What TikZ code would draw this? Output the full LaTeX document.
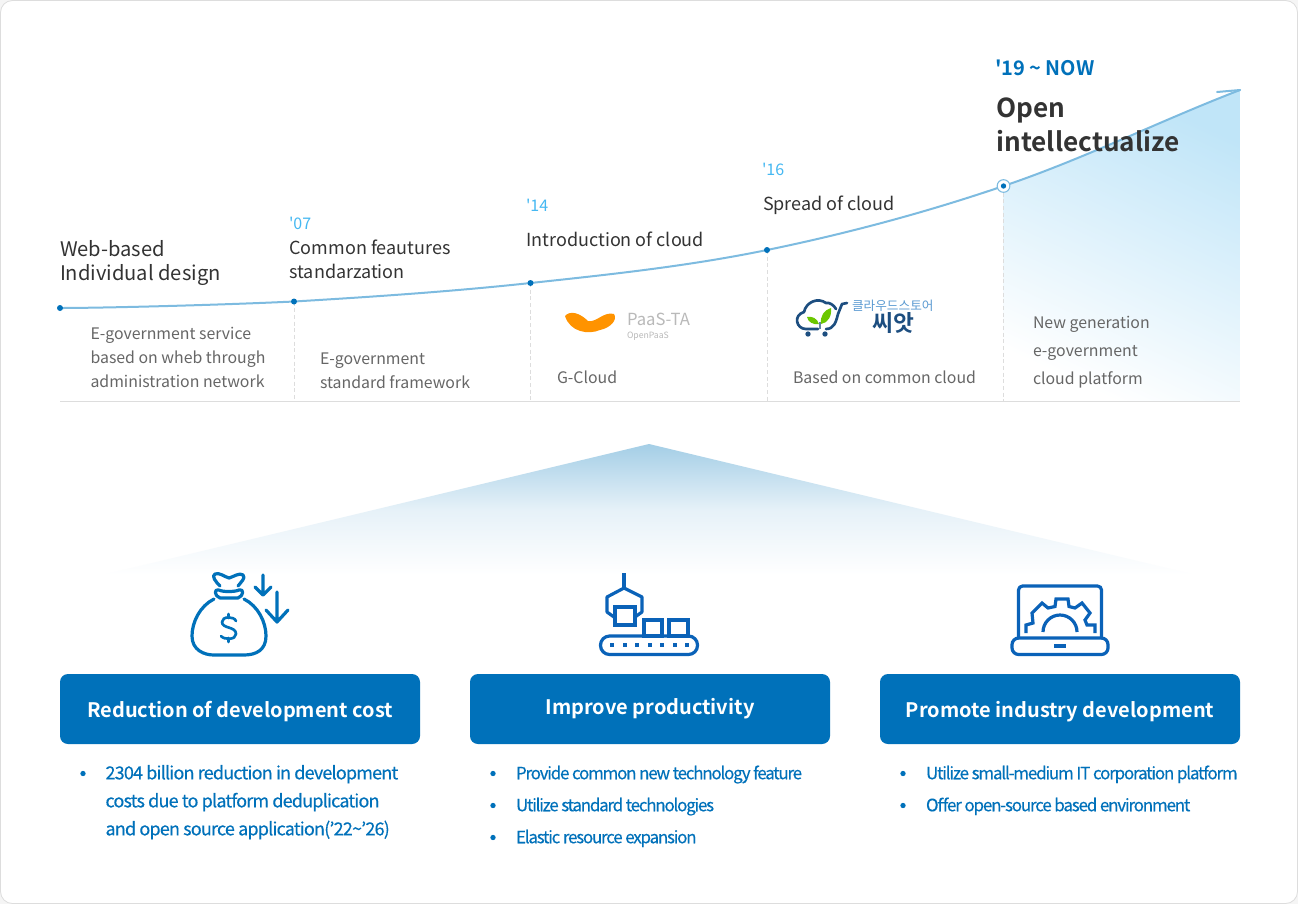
\documentclass[tikz,border=0pt]{standalone}
\usepackage{fontspec}
\setmainfont{Noto Sans CJK KR}[BoldFont={Noto Sans CJK KR Bold}]
\usetikzlibrary{calc}
\definecolor{blueA}{HTML}{0071BA}
\definecolor{lineB}{HTML}{7DBBE0}
\definecolor{yearC}{HTML}{45B8F2}
\definecolor{grayT}{HTML}{666666}
\definecolor{darkT}{HTML}{333333}
\definecolor{iconB}{HTML}{0A62B8}
\definecolor{sep}{HTML}{DDDDDD}
\definecolor{navyL}{HTML}{1D4E80}
\definecolor{krB}{HTML}{5C9BD2}
\tikzset{
  every node/.style={inner sep=0pt,outer sep=0pt},
  dotnode/.style={circle,fill=blueA,minimum size=4.5pt},
  yeartxt/.style={anchor=west,text=yearC,font=\fontsize{12}{14}\selectfont},
  headtxt/.style={anchor=north west,align=left,text=darkT,font=\fontsize{13.5}{18}\selectfont},
  bodytxt/.style={anchor=north west,align=left,text=grayT,font=\fontsize{11.9}{18}\selectfont},
  btn/.style={rounded corners=6pt,fill=blueA,minimum width=270pt,minimum height=52.5pt,text=white,text height=11pt,text depth=3pt,font=\fontsize{15}{18}\bfseries\selectfont},
  bullettxt/.style={anchor=north west,align=left,text=blueA},
  bdot/.style={circle,fill=blueA,minimum size=4pt},
  sepline/.style={sep,line width=0.6pt,densely dashed},
  icon/.style={iconB,line width=2.4pt,line cap=round,line join=round},
}
\begin{document}
\begin{tikzpicture}[x=0.75pt,y=-0.75pt]
\useasboundingbox (0,0) rectangle (1298,904);
\fill[gray!8] (0,0) rectangle (1298,904);
\draw[fill=white,draw=sep,line width=0.6pt,rounded corners=9pt] (0.5,0.5) rectangle (1297.5,903.5);

\coordinate (p0) at (60,308);
\coordinate (p1) at (294,301.5);
\coordinate (p2) at (530.5,283);
\coordinate (p3) at (767,250);
\coordinate (p4) at (1003.5,186);
\coordinate (p5) at (1240,90);
% area under curve
\begin{scope}
\clip (p4) .. controls (1082.8,159.3) and (1162,120) .. (p5) -- (1240,401) -- (1003.5,401) -- cycle;
\shade[bottom color=white,top color={rgb,255:red,192;green,229;blue,248},shading angle=-25] (1003.5,90) rectangle (1240,401);
\end{scope}
% triangle
\shade[top color={rgb,255:red,164;green,206;blue,230},bottom color=white,middle color={rgb,255:red,230;green,241;blue,248}]
  (649,444) -- (1196,575) -- (102,575) -- cycle;

% baseline and separators
\coordinate (bl) at (60,401.5);
\coordinate (br) at (1240,401.5);
\draw[sep,line width=0.75pt] (bl) -- (br);
\foreach \n/\x in {p1/294,p2/530.5,p3/767,p4/1003.5}{
  \draw[sepline] (\n) -- (\x,401);
}
% curve
\draw[lineB,line width=1.5pt,line cap=round]
  (p0) .. controls (100,308) and (215.5,305.2) .. (p1)
       .. controls (372.5,296.8) and (452.2,291.5) .. (p2)
       .. controls (609.8,274.5) and (688.2,266.2) .. (p3)
       .. controls (845.8,233.8) and (925.2,212.7) .. (p4)
       .. controls (1082.8,159.3) and (1162,120) .. (p5);
\draw[lineB,line width=1.5pt,line cap=round] (p5) -- (1217,92);
% markers
\node[dotnode] (d0) at (p0) {};
\node[dotnode] (d1) at (p1) {};
\node[dotnode] (d2) at (p2) {};
\node[dotnode] (d3) at (p3) {};
\node[circle,fill=white,draw=lineB,line width=0.8pt,minimum size=9.5pt] (d4) at (p4) {};
\node[dotnode,minimum size=4pt] (d4b) at (p4) {};

% texts
\node[headtxt,font=\fontsize{15.1}{18}\selectfont] (h0) at (60,240) {Web-based\\Individual design};
\node[yeartxt] (y1) at (289,223) {\textquotesingle07};
\node[headtxt] (h1) at (289.5,239.5) {Common feautures\\standarzation};
\node[yeartxt] (y2) at (526,205) {\textquotesingle14};
\node[headtxt] (h2) at (526.5,232) {Introduction of cloud};
\node[yeartxt] (y3) at (762,169) {\textquotesingle16};
\node[headtxt] (h3) at (763,196) {Spread of cloud};
\node[anchor=west,text=blueA,font=\fontsize{15}{18}\bfseries\selectfont] (y4) at (995,68) {\textquotesingle19 \textasciitilde{} NOW};
\node[anchor=north west,align=left,text=darkT,font=\fontsize{19.6}{25.5}\bfseries\selectfont] (h4) at (996.5,98) {Open\\intellectualize};

\node[bodytxt] (b0) at (90.5,327) {E-government service\\based on wheb through\\administration network};
\node[bodytxt] (b1) at (320,353) {E-government\\standard framework};
\node[bodytxt] (b2) at (557,371) {G-Cloud};
\node[bodytxt] (b3) at (793,371) {Based on common cloud};
\node[bodytxt,font=\fontsize{11.9}{21}\selectfont] (b4) at (1033,316) {New generation\\e-government\\cloud platform};

% PaaS-TA logo
\fill[orange!85!yellow] (565,316) .. controls (570,310) and (580,313) .. (588,321)
  .. controls (596,323) and (604,311) .. (614,314) .. controls (618,320) and (610,328) .. (600,330)
  .. controls (588,335) and (570,332) .. (565,316) -- cycle;
\node[anchor=west,text=gray!55,font=\fontsize{12.5}{14}\selectfont] (pt) at (627,319) {PaaS-TA};
\node[anchor=west,text=gray!55,font=\fontsize{6.5}{8}\selectfont] (po) at (627,336) {OpenPaaS};

% cloud store logo
\draw[navyL,line width=2pt,line cap=round,line join=round]
  (818,329) -- (806,329) .. controls (796,329) and (793,315) .. (804,312)
  .. controls (806,302) and (818,297) .. (826,303) .. controls (829,302) and (834,305) .. (836,309);
\draw[navyL,line width=2pt,line cap=round,line join=round]
  (826,329) .. controls (834,329) and (836,322) .. (838,314) -- (842,304) -- (847,303);
\draw[navyL!70,line width=0.8pt] (820,329) -- (820,322);
\fill[green!45!olive!80!yellow] (821,324) .. controls (820,316) and (824,310) .. (831,308) .. controls (832,316) and (828,323) .. (821,324) -- cycle;
\fill[green!45!olive!80!yellow] (819,324) .. controls (817,318) and (812,316) .. (807,317) .. controls (808,322) and (813,325) .. (819,324) -- cycle;
\fill[navyL] (808,334) circle (2pt) (825,334) circle (2pt);
\node[anchor=west,text=krB,font=\fontsize{9.5}{11}\selectfont] (kr1) at (852,306) {클라우드스토어};
\node[anchor=center,text=navyL,font=\fontsize{17}{19}\bfseries\selectfont] (kr2) at (893,323) {씨앗};

% icons: money bag
\draw[icon,blueA] (220,586) .. controls (216,582) and (211,576) .. (215,574) .. controls (219,572) and (225,577) .. (229,578)
  .. controls (233,577) and (240,572) .. (243,575) .. controls (246,578) and (241,582) .. (238,586);
\draw[icon,blueA] (219,590) .. controls (222,592) and (235,592) .. (239,590) .. controls (244,588) and (244,596) .. (238,598)
  -- (220,598) .. controls (214,596) and (214,588) .. (219,590);
\draw[icon,blueA] (214,599) .. controls (200,606) and (192,622) .. (192,636) .. controls (192,650) and (204,655) .. (214,655)
  -- (244,655) .. controls (256,655) and (266,650) .. (266,636) .. controls (266,622) and (258,606) .. (244,599);
\draw[icon,blueA,line width=2pt] (236,621) .. controls (234,616) and (222,616) .. (222,622) .. controls (222,629) and (236,626) .. (236,634)
  .. controls (236,640) and (224,640) .. (221,636);
\draw[icon,blueA,line width=2pt] (228.5,614) -- (228.5,618) (228.5,638) -- (228.5,642);
\draw[icon,blueA] (263,575) -- (263,595) (255,587) -- (263,595) -- (271,587);
\draw[icon,blueA] (277,592) -- (277,622) (266,610) -- (277,622) -- (288,610);

% icons: conveyor
\draw[icon,line cap=butt] (624,573) -- (624,588);
\draw[icon] (614,617) -- (607,612) -- (607,597) -- (624,588) -- (642,597) -- (642,612) -- (635,617);
\draw[icon,line join=miter] (615,607) rectangle (635,625);
\draw[icon,line join=miter] (644,620) rectangle (662,636);
\draw[icon,line join=miter] (669,620) rectangle (688,636);
\draw[icon,rounded corners=6.8pt] (600.5,636) rectangle (697.5,654.5);
\foreach \x in {612,624.5,637,649.5,662,674.5,687}{\fill[iconB] (\x-2,643) rectangle (\x+2,647);}

% icons: laptop
\draw[icon,rounded corners=3pt] (1018.5,638) -- (1018.5,586) -- (1101.5,586) -- (1101.5,638);
\draw[icon,rounded corners=5pt] (1012,638) -- (1108,638) -- (1108,654.5) -- (1012,654.5) -- cycle;
\fill[iconB] (1054,644) rectangle (1066,647.5);
\draw[icon,line cap=butt,line join=miter] (1026,633) -- (1026,625) -- (1033,623) -- (1032,613) -- (1042,603) -- (1048,608) -- (1055,606.5) -- (1056,599) -- (1068,599) -- (1069,606.5) -- (1075,608) -- (1082,603) -- (1090,613) -- (1085,620) -- (1087,625) -- (1095,625) -- (1095,633);
\draw[icon,line cap=butt] (1043,632) arc[start angle=180,end angle=360,radius=17];

% buttons
\node[btn] (c1) at (240,709) {\raisebox{-2pt}[0pt][0pt]{Reduction of development cost}};
\node[btn] (c2) at (650,709) {Improve productivity};
\node[btn] (c3) at (1060,709) {\raisebox{-2pt}[0pt][0pt]{Promote industry development}};

% bullets
\node[bullettxt,font=\fontsize{13.5}{21}\selectfont\addfontfeatures{LetterSpace=-4.5,FakeBold=0.25}] (t1) at (105.5,765) {2304 billion reduction in development\\costs due to platform deduplication\\and open source application(’22\textasciitilde’26)};
\node[bdot] (u1) at (83,773.5) {};
\node[bullettxt,font=\fontsize{12.75}{24}\selectfont\addfontfeatures{LetterSpace=-7.3,FakeBold=0.25}] (t2) at (516,765.5) {Provide common new technology feature\\Utilize standard technologies\\Elastic resource expansion};
\node[bdot] (u2) at (493,773.5) {};
\node[bdot] (u3) at (493,805.5) {};
\node[bdot] (u4) at (493,837.5) {};
\node[bullettxt,font=\fontsize{12.75}{24}\selectfont\addfontfeatures{LetterSpace=-7,FakeBold=0.25}] (t3) at (926,765.5) {Utilize small-medium IT corporation platform\\Offer open-source based environment};
\node[bdot] (u5) at (903,773.5) {};
\node[bdot] (u6) at (903,805.5) {};
\end{tikzpicture}
\end{document}
